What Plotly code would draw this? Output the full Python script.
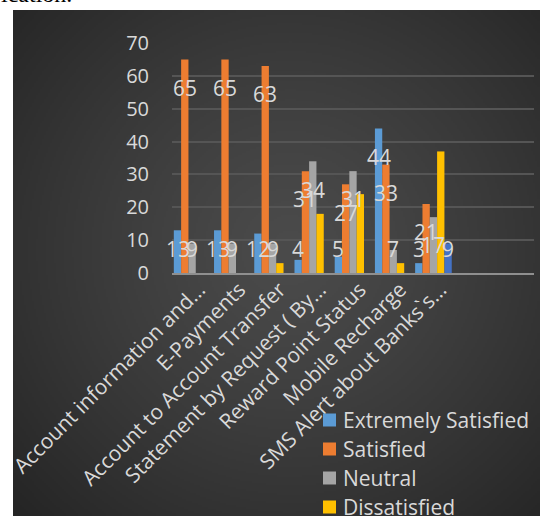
import base64, struct, zlib
import numpy as np
import plotly.graph_objects as go

# ---------------- data ----------------
categories = ["Account information and…", "E-Payments", "Account to Account Transfer",
              "Statement by Request ( By…", "Reward Point Status", "Mobile Recharge",
              "SMS Alert about Banks`s…", " ", "  "]
series_names = ["Extremely Satisfied", "Satisfied", "Neutral", "Dissatisfied", "Extremely Dissatisfied"]
extremely_satisfied = [13, 13, 12, 4, 5, 44, 3]
satisfied = [65, 65, 63, 31, 27, 33, 21]
neutral = [9, 9, 9, 34, 31, 7, 17]
dissatisfied = [0, 0, 3, 18, 24, 3, 37]
extremely_dissatisfied = [0, 0, 0, 0, 0, 0, 9]
y_ticks = [0, 10, 20, 30, 40, 50, 60, 70]

series_values = [extremely_satisfied, satisfied, neutral, dissatisfied, extremely_dissatisfied]
colors = ["#5B9BD5", "#ED7D31", "#A5A5A5", "#FFC000", "#4472C4"]
show_labels = [True, True, True, False, True]

FONT = "Open Sans"
TXT = "#D9D9D9"

# ---------------- layout geometry (pixels) ----------------
W, H = 540, 516
PL, PR = 172, 534          # plot area left/right
PT, PB = 43, 273           # plot area top/bottom (y=70 .. y=0)
pw, ph = PR - PL, PB - PT

def px2x(px):
    return (px - PL) / pw

def py2y(py):
    return (PB - py) / ph

# ---------------- background gradient image ----------------
def make_png(arr):
    h, w = arr.shape
    raw = b"".join(b"\x00" + arr[r].tobytes() for r in range(h))
    def chunk(tag, data):
        c = struct.pack(">I", len(data)) + tag + data
        return c + struct.pack(">I", zlib.crc32(tag + data) & 0xffffffff)
    return (b"\x89PNG\r\n\x1a\n" + chunk(b"IHDR", struct.pack(">IIBBBBB", w, h, 8, 0, 0, 0, 0))
            + chunk(b"IDAT", zlib.compress(raw, 9)) + chunk(b"IEND", b""))

bx0, by0, bx1, by1 = 13, 10, 540, 516
gw, gh = 264, 253
xs = bx0 + (np.arange(gw) + 0.5) * (bx1 - bx0) / gw
ys = by0 + (np.arange(gh) + 0.5) * (by1 - by0) / gh
X, Y = np.meshgrid(xs, ys)
R = np.sqrt(((X - 290) / 380) ** 2 + ((Y - 250) / 380) ** 2)
R = np.clip(R, 0, 1)
img = (0x4B - (0x4B - 0x25) * R ** 1.25).astype(np.uint8)
bg_uri = "data:image/png;base64," + base64.b64encode(make_png(img)).decode()

# ---------------- figure ----------------
fig = go.Figure()
n = len(series_values[0])
for name, vals, col in zip(series_names, series_values, colors):
    fig.add_trace(go.Bar(
        x=categories[:n], y=vals, name=name, marker=dict(color=col, line=dict(width=0)),
        showlegend=False,
    ))

# data labels (Excel "inside end" style, clamped near the axis)
bar_px = 7.3
annotations = []
for i, (vals, show) in enumerate(zip(series_values, show_labels)):
    if not show:
        continue
    for c, v in zip(categories, vals):
        if v == 0:
            continue
        annotations.append(dict(
            x=c, y=max(v - 8.6, 7.4), xref="x", yref="y", text=str(v), showarrow=False,
            xshift=(i - 2) * bar_px, font=dict(family=FONT, size=21, color=TXT),
            xanchor="center", yanchor="middle",
        ))

# manual legend (the chart's legend runs past the bottom edge)
shapes = []
leg_x, leg_y0, leg_dy = 323, 420, 29
for k, (name, col) in enumerate(zip(series_names, colors)):
    cy = leg_y0 + k * leg_dy
    shapes.append(dict(
        type="rect", xref="paper", yref="paper",
        x0=px2x(leg_x), x1=px2x(leg_x + 13), y0=py2y(cy + 6.5), y1=py2y(cy - 6.5),
        fillcolor=col, line=dict(width=0), layer="above",
    ))
    annotations.append(dict(
        x=px2x(leg_x + 18), y=py2y(cy), xref="paper", yref="paper", text=name,
        showarrow=False, xanchor="left", yanchor="middle",
        font=dict(family=FONT, size=21, color=TXT),
    ))

# cropped document text above the chart
annotations.append(dict(
    x=px2x(-1), y=py2y(-21), xref="paper", yref="paper", text="ication.", showarrow=False,
    xanchor="left", yanchor="top", font=dict(family="Liberation Serif", size=24, color="#000000"),
))

fig.update_layout(
    width=W, height=H,
    margin=dict(l=PL, r=W - PR, t=PT, b=H - PB, pad=0, autoexpand=False),
    paper_bgcolor="#FFFFFF", plot_bgcolor="rgba(0,0,0,0)",
    barmode="group", bargap=0.09, bargroupgap=0,
    font=dict(family=FONT, color=TXT),
    showlegend=False,
    annotations=annotations,
    shapes=shapes,
    images=[dict(
        source=bg_uri, xref="paper", yref="paper",
        x=px2x(bx0), y=py2y(by0), sizex=(bx1 - bx0) / pw, sizey=(by1 - by0) / ph,
        xanchor="left", yanchor="top", sizing="stretch", layer="below",
    )],
)
fig.update_xaxes(
    categoryorder="array", categoryarray=categories, range=[-0.5, len(categories) - 0.5],
    tickangle=-45, tickfont=dict(family=FONT, size=21, color=TXT), automargin=False,
    ticklabelshift=7, ticklabelstandoff=-6,
    showline=True, linecolor="#8F8F8F", linewidth=2, showgrid=False, ticks="",
    fixedrange=True,
)
fig.update_yaxes(
    range=[0, 70], tickvals=y_ticks, showgrid=True, gridcolor="#555555", gridwidth=1.5,
    zeroline=False, showline=False, ticks="", ticklabelstandoff=22, automargin=False,
    tickfont=dict(family=FONT, size=20, color=TXT), fixedrange=True,
)
fig.write_html("out.html")
